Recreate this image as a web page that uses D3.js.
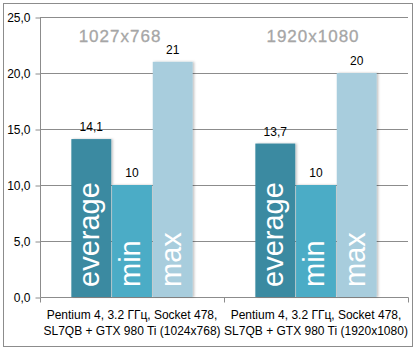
<!DOCTYPE html>
<html>
<head>
<meta charset="utf-8">
<script src="https://cdn.jsdelivr.net/npm/d3@7"></script>
<style>
  body { margin: 0; background: #fff; }
  text { font-family: "Liberation Sans", sans-serif; }
</style>
</head>
<body>
<div id="chart"></div>
<script>
// chart values
const categories = ["Pentium 4, 3.2 ГГц, Socket 478,|SL7QB + GTX 980 Ti (1024x768)",
                    "Pentium 4, 3.2 ГГц, Socket 478,|SL7QB + GTX 980 Ti (1920x1080)"];
const resolutions = ["1027x768", "1920x1080"];
const seriesNames = ["everage", "min", "max"];
const everageVals = [14.1, 13.7];
const minVals = [10, 10];
const maxVals = [21, 20];
const yTicks = [0, 5, 10, 15, 20, 25];

const W = 415, H = 351;
const margin = {top: 17, right: 7, bottom: 54, left: 40};
const width = W - margin.left - margin.right;
const height = H - margin.top - margin.bottom;

const colors = {everage: "#3a8aa1", min: "#4bacc6", max: "#a8cddd"};

const svg = d3.select("#chart").append("svg")
    .attr("width", W)
    .attr("height", H);

// outer frame
svg.append("rect")
    .attr("x", 3.5).attr("y", 3.5)
    .attr("width", 409).attr("height", 343)
    .attr("fill", "none")
    .attr("stroke", "#8c8c8c");

const defs = svg.append("defs");
const shadow = defs.append("filter").attr("id", "shadow")
    .attr("x", "-20%").attr("y", "-10%").attr("width", "140%").attr("height", "120%");
shadow.append("feDropShadow")
    .attr("dx", 1.5).attr("dy", 0).attr("stdDeviation", 1.2)
    .attr("flood-color", "#000").attr("flood-opacity", 0.25);

const g = svg.append("g")
    .attr("transform", `translate(${margin.left}, ${margin.top})`);

const x = d3.scaleBand()
    .domain(categories)
    .range([0, width]);

const xInner = d3.scaleBand()
    .domain(seriesNames)
    .range([0, x.bandwidth()])
    .paddingInner(0.02)
    .paddingOuter(0.77);

const y = d3.scaleLinear()
    .domain([0, 25])
    .range([height, 0]);

// grid lines
g.append("g")
    .selectAll("line")
    .data(yTicks.slice(1))
    .join("line")
    .attr("x1", 0).attr("x2", width)
    .attr("y1", d => y(d) + 0.5).attr("y2", d => y(d) + 0.5)
    .attr("stroke", "#8c8c8c");

// y axis
const yAxis = d3.axisLeft(y)
    .tickValues(yTicks)
    .tickSize(5)
    .tickFormat(d => d3.format(".1f")(d).replace(".", ","));
const ya = g.append("g").attr("transform", "translate(0.5,0.5)").call(yAxis);
ya.selectAll("path, line").attr("stroke", "#8c8c8c");
ya.select(".domain").attr("d", `M0,${height}V0`);
ya.selectAll("text").attr("font-size", "12px").attr("fill", "#000").attr("x", -10);

// x axis
const xa = g.append("g").attr("transform", `translate(0.5, ${height + 0.5})`);
xa.append("line").attr("x1", 0).attr("x2", width).attr("stroke", "#8c8c8c");
xa.selectAll(".tk")
    .data([0, 1, 2])
    .join("line")
    .attr("class", "tk")
    .attr("x1", d => d * x.step()).attr("x2", d => d * x.step())
    .attr("y1", 0).attr("y2", 5)
    .attr("stroke", "#8c8c8c");

const labels = g.append("g").selectAll("text")
    .data(categories)
    .join("text")
    .attr("text-anchor", "middle")
    .attr("font-size", "12px")
    .attr("fill", "#000")
    .attr("transform", d => `translate(${x(d) + x.bandwidth() / 2}, ${height + 22})`);
labels.each(function(d) {
    const parts = d.split("|");
    d3.select(this).selectAll("tspan")
        .data(parts)
        .join("tspan")
        .attr("x", 0)
        .attr("dy", (p, i) => i === 0 ? 0 : 16)
        .text(p => p);
});

// bars
const rows = categories.map((c, i) => ({
    cat: c,
    vals: [
        {key: "everage", v: everageVals[i]},
        {key: "min", v: minVals[i]},
        {key: "max", v: maxVals[i]}
    ]
}));

const groups = g.selectAll(".grp")
    .data(rows)
    .join("g")
    .attr("class", "grp")
    .attr("transform", d => `translate(${x(d.cat)}, 0)`);

groups.selectAll("rect")
    .data(d => d.vals)
    .join("rect")
    .attr("x", d => xInner(d.key))
    .attr("y", d => y(d.v))
    .attr("width", xInner.bandwidth())
    .attr("height", d => height - y(d.v))
    .attr("fill", d => colors[d.key])
    .attr("filter", "url(#shadow)");

// value labels
groups.selectAll(".val")
    .data(d => d.vals)
    .join("text")
    .attr("class", "val")
    .attr("x", d => xInner(d.key) + xInner.bandwidth() / 2)
    .attr("y", d => y(d.v) - 8)
    .attr("text-anchor", "middle")
    .attr("font-size", "12px")
    .attr("fill", "#000")
    .text(d => String(d.v).replace(".", ","));

// series names in bars
groups.selectAll(".nm")
    .data(d => d.vals)
    .join("text")
    .attr("class", "nm")
    .attr("transform", d => `translate(${xInner(d.key) + xInner.bandwidth() / 2 + 8}, ${height - 10}) rotate(-90)`)
    .attr("font-family", "'DejaVu Sans', sans-serif")
    .attr("font-size", "29px")
    .attr("fill", "#fff")
    .text(d => d.key);

// resolution headings
g.selectAll(".res")
    .data(resolutions)
    .join("text")
    .attr("class", "res")
    .attr("x", (d, i) => x(categories[i]) + x.bandwidth() / 2 - 12 + i * 9)
    .attr("y", 25)
    .attr("text-anchor", "middle")
    .attr("font-family", "'DejaVu Sans', sans-serif")
    .attr("font-size", "17px")
    .attr("letter-spacing", "1px")
    .attr("fill", "#a6a6a6")
    .attr("stroke", "#a6a6a6")
    .attr("stroke-width", 0.3)
    .text(d => d);
</script>
</body>
</html>
